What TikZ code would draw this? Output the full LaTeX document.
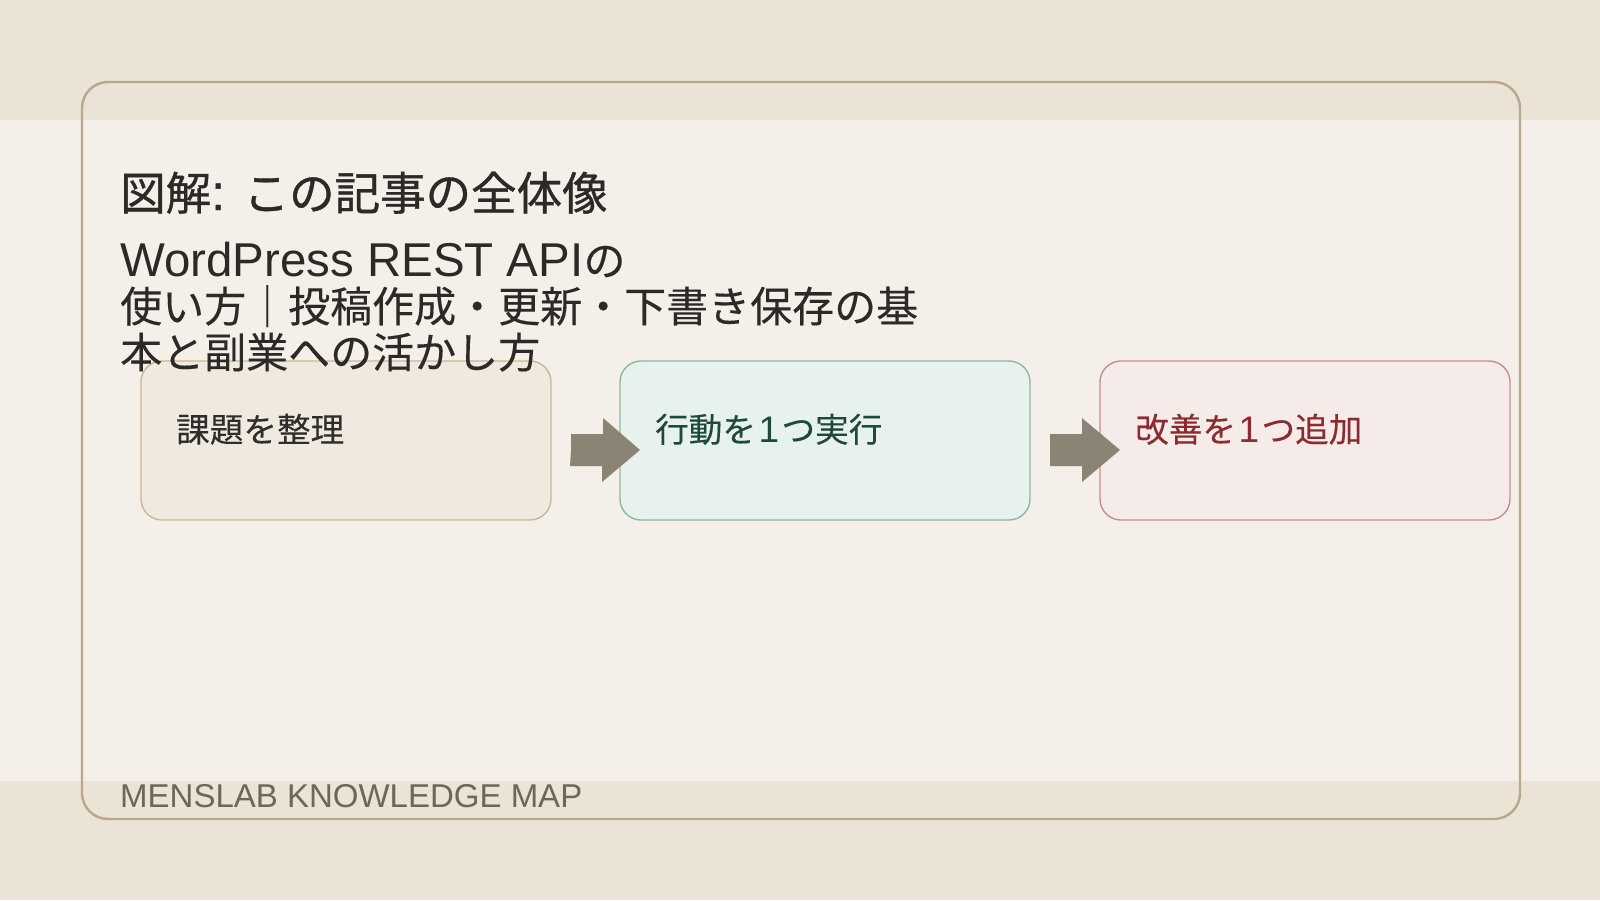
\documentclass[tikz,border=0pt]{standalone}
\usepackage{fontspec}
\setmainfont{Noto Sans CJK JP}[FakeBold=0.25]
\newfontfamily\lat{Liberation Sans}[Scale=1.13]
\newfontfamily\numfont{Liberation Sans}[Scale=1.1]
\newfontfamily\titlecjk{Noto Sans CJK JP}[FakeBold=0.8]
\newfontfamily\titlelat{Liberation Sans}[Scale=1.1,FakeBold=0.8]
\newfontfamily\footfont{Liberation Sans}
\newcommand\onedigit{\kern2.5pt{\numfont 1}\kern2.5pt}
\usetikzlibrary{calc}
\definecolor{bandc}{HTML}{EAE3D6}
\definecolor{bgc}{HTML}{F4F0E9}
\definecolor{framec}{HTML}{BBA789}
\definecolor{bAfill}{HTML}{F0E9DF}
\definecolor{bAline}{HTML}{C9B796}
\definecolor{bBfill}{HTML}{E8F2EC}
\definecolor{bBline}{HTML}{8FB5A3}
\definecolor{bCfill}{HTML}{F5ECEA}
\definecolor{bCline}{HTML}{C48E90}
\definecolor{arrowc}{HTML}{8B8475}
\definecolor{titlec}{HTML}{2B2A27}
\definecolor{tAc}{HTML}{2F2E2B}
\definecolor{tBc}{HTML}{1F4A39}
\definecolor{tCc}{HTML}{8B2C30}
\definecolor{footc}{HTML}{6E6758}
\begin{document}
\begin{tikzpicture}[x=1pt,y=-1pt,
  card/.style={rounded corners=21pt, minimum width=410pt, minimum height=159pt,
    line width=1.4pt, inner sep=0pt, outer sep=0pt, anchor=north west},
  cardtext/.style={anchor=base west, inner sep=0pt, font=\fontsize{33.6}{40}\selectfont},
  headtext/.style={anchor=base west, inner sep=0pt, text=titlec, font=\fontsize{42}{48}\selectfont},
  blockarrow/.style={fill=arrowc}
]
\useasboundingbox (0,0) rectangle (1600,900);
\fill[bandc] (0,0) rectangle (1600,900);
\fill[bgc] (0,120) rectangle (1600,781);
\draw[framec, line width=2.4pt, rounded corners=26pt] (82,82) rectangle (1520,819);

\node[card, fill=bAfill, draw=bAline] (b1) at (141,361) {};
\node[card, fill=bBfill, draw=bBline] (b2) at (620,361) {};
\node[card, fill=bCfill, draw=bCline] (b3) at (1100,361) {};

\coordinate (a1s) at ($(b1.east)+(20,9.5)$);
\coordinate (a1e) at ($(b2.west)+(20,9.5)$);
\coordinate (a2s) at ($(b2.east)+(20,9.5)$);
\coordinate (a2e) at ($(b3.west)+(20,9.5)$);
\fill[blockarrow] (a1s) -- ++(0,-16) -- ++(32,0) -- ++(0,-16) -- (a1e) -- ++(-38,32) -- ++(0,-16) -- ++(-32,0) -- cycle;
\fill[blockarrow] (a2s) -- ++(0,-16) -- ++(32,0) -- ++(0,-16) -- (a2e) -- ++(-38,32) -- ++(0,-16) -- ++(-32,0) -- cycle;

\node[cardtext, text=tAc] (t1) at ($(b1.north west)+(35,81)$) {課題を整理};
\node[cardtext, text=tBc] (t2) at ($(b2.north west)+(35,81)$) {行動を\onedigit つ実行};
\node[cardtext, text=tCc] (t3) at ($(b3.north west)+(35,81)$) {改善を\onedigit つ追加};

\node[headtext, font=\fontsize{45.5}{52}\selectfont] (title) at (120,210) {\titlecjk 図解{\titlelat: }この記事の全体像};
\node[headtext] (sub1) at (120,276) {{\lat WordPress REST API}の};
\node[headtext] (sub2) at (120,322) {使い方｜投稿作成・更新・下書き保存の基};
\node[headtext] (sub3) at (120,368) {本と副業への活かし方};

\node[anchor=base west, inner sep=0pt, text=footc, font=\fontsize{33}{38}\footfont] (foot) at (120,807) {MENSLAB KNOWLEDGE MAP};
\end{tikzpicture}
\end{document}
